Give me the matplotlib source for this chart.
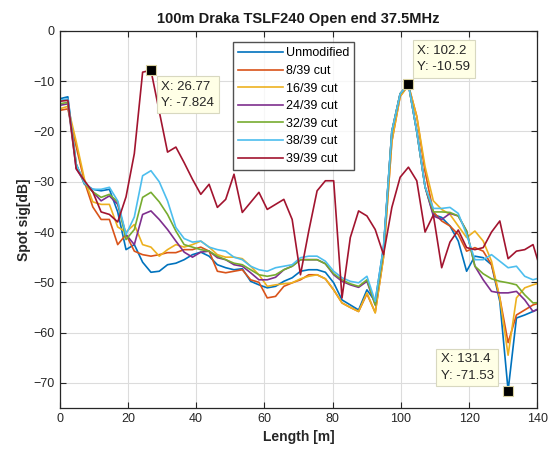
import matplotlib
matplotlib.use("Agg")
import matplotlib.pyplot as plt

plt.rcParams['font.family'] = ['Liberation Sans', 'DejaVu Sans']

title = "100m Draka TSLF240 Open end 37.5MHz"
xlabel = "Length [m]"
ylabel = "Spot sig[dB]"

length = [0.00, 2.43, 4.87, 7.30, 9.73, 12.17, 14.60, 17.03, 19.47, 21.90,
          24.33, 26.77, 29.20, 31.63, 34.07, 36.50, 38.93, 41.37, 43.80, 46.23,
          48.67, 51.10, 53.53, 55.97, 58.40, 60.84, 63.27, 65.70, 68.14, 70.57,
          73.00, 75.44, 77.87, 80.30, 82.74, 85.17, 87.60, 90.04, 92.47, 94.90,
          97.34, 99.77, 102.20, 104.64, 107.07, 109.50, 111.94, 114.37, 116.80, 119.24,
          121.67, 124.10, 126.54, 128.97, 131.40, 133.84, 136.27, 138.70, 141.14]

unmodified = [-13.5, -13.1, -26.5, -30.5, -31.5, -31.8, -31.5, -36.0, -43.5, -42.5,
              -46.0, -48.0, -47.8, -46.5, -46.2, -45.5, -44.5, -44.0, -44.8, -46.5,
              -47.1, -47.5, -47.3, -49.8, -50.5, -51.1, -50.8, -49.8, -49.1, -47.8,
              -47.5, -47.5, -48.0, -50.1, -53.5, -54.5, -55.5, -51.5, -53.8, -43.0,
              -20.0, -12.5, -10.59, -20.0, -31.0, -36.5, -37.1, -38.8, -41.8, -47.8,
              -44.8, -45.1, -46.5, -53.8, -71.53, -57.1, -56.5, -55.8, -55.0]

cut8 = [-15.8, -15.5, -23.0, -30.0, -35.0, -37.5, -37.5, -42.5, -40.5, -43.8,
        -44.5, -44.8, -44.5, -44.1, -44.1, -43.5, -43.5, -43.0, -43.8, -47.8,
        -48.1, -47.8, -47.5, -49.5, -50.0, -53.1, -52.8, -50.8, -50.1, -49.5,
        -48.5, -48.5, -49.3, -51.5, -54.1, -55.0, -55.8, -52.3, -56.0, -45.0,
        -22.0, -13.0, -10.8, -17.0, -28.0, -36.0, -37.8, -38.8, -40.5, -43.8,
        -43.1, -43.8, -46.5, -53.1, -62.0, -56.5, -55.5, -54.5, -54.0]

cut16 = [-15.5, -15.0, -22.0, -29.5, -34.0, -34.5, -34.5, -39.0, -40.0, -38.5,
         -42.5, -43.0, -44.8, -43.5, -42.5, -43.0, -42.5, -41.8, -43.0, -44.5,
         -45.0, -45.0, -45.3, -46.8, -48.5, -50.8, -50.5, -50.3, -50.1, -49.3,
         -48.8, -48.5, -49.3, -51.5, -54.1, -55.0, -55.8, -52.1, -56.1, -45.0,
         -22.0, -13.0, -10.8, -17.0, -27.0, -33.8, -35.5, -36.5, -38.8, -41.1,
         -39.8, -41.8, -45.8, -53.1, -64.5, -53.1, -51.1, -50.5, -50.0]

cut24 = [-14.8, -14.5, -27.4, -30.0, -32.0, -33.8, -32.8, -34.5, -40.5, -42.5,
         -36.5, -35.8, -37.5, -39.5, -41.8, -44.0, -45.0, -44.0, -43.8, -45.1,
         -45.5, -46.5, -46.8, -48.1, -49.5, -49.5, -49.0, -47.5, -46.8, -45.5,
         -45.5, -45.5, -46.3, -48.5, -49.8, -50.5, -51.0, -49.8, -54.5, -43.5,
         -20.0, -12.5, -10.6, -20.0, -31.0, -36.8, -37.5, -36.3, -36.8, -39.8,
         -46.8, -49.5, -51.8, -52.1, -52.1, -51.8, -53.5, -55.8, -55.0]

cut32 = [-14.5, -14.2, -26.5, -30.3, -32.0, -33.1, -32.5, -34.0, -41.5, -39.5,
         -33.1, -32.1, -34.0, -36.5, -39.8, -42.5, -43.0, -43.5, -43.8, -44.8,
         -45.5, -46.2, -46.5, -47.5, -48.5, -48.8, -48.5, -47.5, -46.8, -45.5,
         -45.5, -45.5, -46.3, -48.3, -49.5, -50.3, -50.8, -49.5, -54.5, -43.5,
         -20.0, -12.5, -10.6, -20.0, -31.0, -36.0, -36.0, -36.1, -36.8, -39.8,
         -46.8, -48.3, -49.3, -49.8, -50.1, -50.5, -52.5, -54.1, -54.0]

cut38 = [-13.8, -13.5, -26.5, -30.3, -31.5, -31.5, -31.1, -33.8, -40.5, -37.0,
         -28.8, -27.8, -30.0, -33.8, -39.1, -41.3, -42.0, -41.8, -43.0, -43.5,
         -43.8, -45.0, -45.5, -46.8, -47.5, -47.8, -47.1, -46.8, -46.5, -45.1,
         -44.8, -44.8, -45.8, -47.8, -49.1, -49.8, -50.1, -48.8, -53.8, -43.0,
         -20.0, -12.5, -10.6, -20.0, -31.0, -35.3, -35.3, -35.1, -36.3, -40.5,
         -45.5, -45.5, -44.5, -45.8, -47.1, -46.8, -48.8, -49.5, -49.0]

cut39 = [-14.0, -13.8, -27.4, -29.8, -32.0, -36.0, -36.5, -38.0, -33.0, -24.4,
         -8.2, -7.824, -16.0, -24.1, -23.1, -26.2, -29.5, -32.5, -30.5, -35.1,
         -33.5, -28.5, -36.1, -34.1, -32.1, -35.5, -34.5, -33.5, -37.5, -48.5,
         -39.8, -31.8, -29.8, -29.8, -53.1, -41.1, -35.8, -36.8, -39.5, -44.5,
         -35.1, -29.1, -27.1, -29.8, -40.0, -36.6, -47.1, -42.0, -39.6, -43.1,
         -43.5, -43.1, -40.0, -37.8, -45.3, -43.8, -43.5, -42.5, -48.0]

series_labels = ["Unmodified", "8/39 cut", "16/39 cut", "24/39 cut",
                 "32/39 cut", "38/39 cut", "39/39 cut"]
colors = ["#0072BD", "#D95319", "#EDB120", "#7E2F8E", "#77AC30", "#4DBEEE", "#A2142F"]

tip_x = [26.77, 102.2, 131.4]
tip_y = [-7.824, -10.59, -71.53]
tip_text = ["X: 26.77\nY: -7.824", "X: 102.2\nY: -10.59", "X: 131.4\nY: -71.53"]

fig = plt.figure(figsize=(5.49, 4.55), dpi=100)
ax = fig.add_axes([0.1085, 0.1033, 0.8705, 0.8287])

all_series = [unmodified, cut8, cut16, cut24, cut32, cut38, cut39]
for vals, lab, col in zip(all_series, series_labels, colors):
    ax.plot(length, vals, color=col, lw=1.2, label=lab)

ax.set_xlim(0, 140)
ax.set_ylim(-75, 0)
ax.set_xticks(range(0, 141, 20))
ax.set_yticks(range(-70, 1, 10))
ax.grid(True, color='#dcdcdc', lw=0.8)
ax.set_axisbelow(True)
ax.tick_params(direction='in', top=True, right=True, labelsize=9,
               colors='#262626', length=4)
for s in ax.spines.values():
    s.set_color('#262626')
    s.set_linewidth(0.9)

ax.set_title(title, fontsize=10.5, fontweight='bold', color='#1a1a1a', pad=6)
ax.set_xlabel(xlabel, fontsize=10, fontweight='bold', color='#262626', labelpad=4)
ax.set_ylabel(ylabel, fontsize=10, fontweight='bold', color='#262626', labelpad=2)

leg = ax.legend(loc='upper left', bbox_to_anchor=(0.363, 0.97), fontsize=9,
                frameon=True, fancybox=False, edgecolor='#262626',
                handlelength=3.6, handletextpad=0.2, borderpad=0.4,
                labelspacing=0.45, borderaxespad=0)
leg.get_frame().set_linewidth(1.0)

offsets = [((7.5, -7.5), 'left', 'top'),
           ((6.5, 8.0), 'left', 'bottom'),
           ((-10.5, 6.5), 'right', 'bottom')]
for tx, ty, tt, (off, ha, va) in zip(tip_x, tip_y, tip_text, offsets):
    ax.plot([tx], [ty], marker='s', ms=7, mfc='black', mec='#d8d0a0',
            mew=0.8, ls='none', zorder=6)
    ax.annotate(tt, xy=(tx, ty), xytext=off, textcoords='offset points',
                ha=ha, va=va, multialignment='left', fontsize=9.5,
                color='#262626', linespacing=1.45, zorder=7,
                bbox=dict(boxstyle='square,pad=0.35', fc='#ffffe6',
                          ec='#d8d8c0', lw=0.8))

fig.savefig("out.png", dpi=100)
